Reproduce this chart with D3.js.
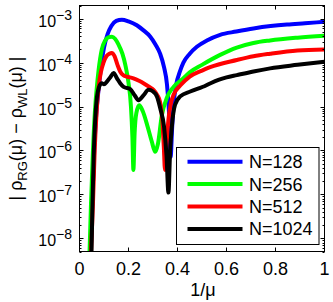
<!DOCTYPE html>
<html>
<head>
<meta charset="utf-8">
<script src="https://d3js.org/d3.v7.min.js"></script>
<style>
  body { margin: 0; background: #fff; }
  text { font-family: "Liberation Sans", Arial, sans-serif; fill: #000; }
</style>
</head>
<body>
<svg id="chart" width="333" height="302"></svg>
<script>
// values (x = 1/mu, y = |rho_RG - rho_WL|)
var n128X = [0.045, 0.052, 0.06, 0.068, 0.078, 0.09, 0.1, 0.115, 0.13, 0.15, 0.173, 0.2, 0.234, 0.26, 0.289, 0.31, 0.329, 0.345, 0.357, 0.365, 0.372, 0.378, 0.385, 0.395, 0.41, 0.424, 0.45, 0.479, 0.52, 0.574, 0.64, 0.71, 0.78, 0.847, 0.92, 1.0];
var n128Y = [3.2e-9, 6.3e-8, 1e-6, 6.3e-6, 2.5e-5, 1e-4, 2.2e-4, 4.5e-4, 6.8e-4, 8.9e-4, 9.5e-4, 8.7e-4, 7.1e-4, 5.5e-4, 3.9e-4, 2.6e-4, 1.6e-4, 7.9e-5, 3.2e-5, 7.9e-6, 7.2e-7, 3.2e-6, 1.26e-5, 3.2e-5, 6.3e-5, 1e-4, 1.6e-4, 2.3e-4, 3.2e-4, 4.3e-4, 5.1e-4, 6e-4, 6.8e-4, 7.4e-4, 7.9e-4, 8.5e-4];

var n256X = [0.04, 0.047, 0.055, 0.063, 0.07, 0.078, 0.091, 0.105, 0.12, 0.132, 0.145, 0.159, 0.175, 0.187, 0.2, 0.21, 0.216, 0.22, 0.225, 0.232, 0.244, 0.258, 0.278, 0.295, 0.309, 0.32, 0.336, 0.357, 0.384, 0.424, 0.45, 0.5, 0.574, 0.642, 0.71, 0.778, 0.89, 1.0];
var n256Y = [3.2e-9, 6.3e-8, 1e-6, 7.9e-6, 2.5e-5, 6.8e-5, 2e-4, 3.2e-4, 3.8e-4, 3.9e-4, 3.5e-4, 2.6e-4, 1.6e-4, 8.9e-5, 3.5e-5, 1e-5, 2e-6, 3.6e-7, 2.5e-6, 7.1e-6, 1.07e-5, 7.9e-6, 3.5e-6, 1.6e-6, 9.3e-7, 1.4e-6, 6.3e-6, 1.6e-5, 2.8e-5, 4.4e-5, 6e-5, 8.9e-5, 1.5e-4, 2.2e-4, 2.8e-4, 3.2e-4, 3.7e-4, 4.1e-4];

var n512X = [0.045, 0.055, 0.062, 0.07, 0.078, 0.088, 0.098, 0.11, 0.122, 0.132, 0.143, 0.155, 0.166, 0.18, 0.193, 0.22, 0.245, 0.261, 0.285, 0.302, 0.318, 0.329, 0.338, 0.344, 0.349, 0.355, 0.363, 0.372, 0.385, 0.411, 0.45, 0.5, 0.533, 0.642, 0.71, 0.778, 0.89, 1.0];
var n512Y = [2.5e-9, 6.3e-8, 1e-6, 7.9e-6, 2.8e-5, 6.3e-5, 1e-4, 1.4e-4, 1.6e-4, 1.66e-4, 1.4e-4, 8.9e-5, 6.3e-5, 5.1e-5, 4.8e-5, 4.4e-5, 3.8e-5, 3.4e-5, 2.8e-5, 2.4e-5, 1.8e-5, 1.26e-5, 5e-6, 1.26e-6, 3.6e-7, 1.26e-6, 5e-6, 1.1e-5, 1.9e-5, 3e-5, 4.8e-5, 6.6e-5, 7.9e-5, 1.15e-4, 1.4e-4, 1.6e-4, 1.9e-4, 2e-4];

var n1024X = [0.048, 0.053, 0.058, 0.064, 0.071, 0.08, 0.091, 0.1, 0.112, 0.125, 0.139, 0.153, 0.166, 0.18, 0.207, 0.225, 0.241, 0.261, 0.282, 0.3, 0.316, 0.33, 0.345, 0.355, 0.363, 0.37, 0.377, 0.39, 0.411, 0.452, 0.486, 0.51, 0.535, 0.57, 0.6, 0.642, 0.71, 0.778, 0.89, 1.0];
var n1024Y = [2.5e-9, 6.3e-8, 7.9e-7, 5e-6, 1.6e-5, 2.8e-5, 3.4e-5, 3.2e-5, 3.7e-5, 4.6e-5, 5.8e-5, 4.4e-5, 3.4e-5, 2.8e-5, 2.5e-5, 1.8e-5, 1.4e-5, 1.8e-5, 2.4e-5, 2.2e-5, 1.7e-5, 8.9e-6, 3.5e-6, 7.9e-7, 1.1e-7, 1e-6, 3.5e-6, 1.1e-5, 1.7e-5, 2.2e-5, 2.6e-5, 2.9e-5, 3.4e-5, 4.1e-5, 4.6e-5, 5.2e-5, 6.3e-5, 7.4e-5, 8.9e-5, 1.05e-4];

var seriesNames = ["N=128", "N=256", "N=512", "N=1024"];
var seriesColors = ["#0000ff", "#00ff00", "#ff0000", "#000000"];
var xTicks = [0, 0.2, 0.4, 0.6, 0.8, 1];
var xTickLabels = ["0", "0.2", "0.4", "0.6", "0.8", "1"];
var yTickExps = [-3, -4, -5, -6, -7, -8];

var series = [[n128X, n128Y], [n256X, n256Y], [n512X, n512Y], [n1024X, n1024Y]];

var svg = d3.select("#chart");
// note: "top" is taken by window.top, so plot edges get their own names
var plotL = 79.5, plotR = 324.5, plotT = 5.5, plotB = 251.5;

var x = d3.scaleLinear().domain([0, 1]).range([plotL, plotR]);
var y = d3.scaleLog().domain([5e-9, 2e-3]).range([plotB, plotT]);

svg.append("defs").append("clipPath").attr("id", "plotclip")
    .append("rect").attr("x", plotL).attr("y", plotT)
    .attr("width", plotR - plotL).attr("height", plotB - plotT);

// curves
var line = d3.line()
    .x(function(d) { return x(d[0]); })
    .y(function(d) { return y(d[1]); })
    .curve(d3.curveMonotoneX);

var curves = svg.append("g").attr("clip-path", "url(#plotclip)");
series.forEach(function(s, i) {
    var pts = s[0].map(function(v, j) { return [v, s[1][j]]; });
    curves.append("path")
        .attr("d", line(pts))
        .attr("fill", "none")
        .attr("stroke", seriesColors[i])
        .attr("stroke-width", 4)
        .attr("stroke-linejoin", "round");
});

// ticks, inside the box like matlab
var ticks = svg.append("g").attr("stroke", "#000").attr("stroke-width", 1);
xTicks.forEach(function(t) {
    ticks.append("line").attr("x1", x(t)).attr("x2", x(t)).attr("y1", plotB).attr("y2", plotB - 4);
    ticks.append("line").attr("x1", x(t)).attr("x2", x(t)).attr("y1", plotT).attr("y2", plotT + 4);
});
for (var d = -9; d <= -3; d++) {
    for (var k = 1; k <= 9; k++) {
        var v = k * Math.pow(10, d);
        if (v < 5e-9 || v > 2e-3) continue;
        var len = (k == 1) ? 4 : 2;
        var yy = Math.round(y(v)) + 0.5;
        ticks.append("line").attr("x1", plotL).attr("x2", plotL + len).attr("y1", yy).attr("y2", yy);
        ticks.append("line").attr("x1", plotR).attr("x2", plotR - len).attr("y1", yy).attr("y2", yy);
    }
}

// box
svg.append("rect")
    .attr("x", plotL).attr("y", plotT)
    .attr("width", plotR - plotL).attr("height", plotB - plotT)
    .attr("fill", "none").attr("stroke", "#000").attr("stroke-width", 1);

// x tick labels
svg.append("g").selectAll("text").data(xTicks).enter().append("text")
    .attr("x", function(d) { return x(d); })
    .attr("y", 274.5)
    .attr("text-anchor", "middle")
    .attr("font-size", 18)
    .text(function(d, i) { return xTickLabels[i]; });

// y tick labels 10^n
yTickExps.forEach(function(e) {
    var t = svg.append("text")
        .attr("x", 72)
        .attr("y", y(Math.pow(10, e)) + 8)
        .attr("text-anchor", "end")
        .attr("font-size", 16);
    t.append("tspan").text("10");
    t.append("tspan").attr("dy", -7).attr("font-size", 14).text("\u2212" + (-e));
});

// axis titles
svg.append("text")
    .attr("x", 203).attr("y", 296)
    .attr("text-anchor", "middle")
    .attr("font-size", 18)
    .text("1/\u03bc");

var yt = svg.append("text")
    .attr("transform", "translate(22," + ((plotT + plotB) / 2) + ") rotate(-90)")
    .attr("text-anchor", "middle")
    .attr("font-size", 18);
yt.append("tspan").text("| \u03c1");
yt.append("tspan").attr("dy", 5).attr("font-size", 13).text("RG");
yt.append("tspan").attr("dy", -5).text("(\u03bc) \u2212 \u03c1");
yt.append("tspan").attr("dy", 5).attr("font-size", 13).text("WL");
yt.append("tspan").attr("dy", -5).text("(\u03bc) |");

// legend
var lg = svg.append("g");
lg.append("rect")
    .attr("x", 176.5).attr("y", 147.5)
    .attr("width", 142.5).attr("height", 97)
    .attr("fill", "#fff").attr("stroke", "#000").attr("stroke-width", 1);
seriesNames.forEach(function(name, i) {
    var ly = 161.7 + i * 22.4;
    lg.append("line")
        .attr("x1", 187.5).attr("x2", 242.5)
        .attr("y1", ly).attr("y2", ly)
        .attr("stroke", seriesColors[i]).attr("stroke-width", 4);
    lg.append("text")
        .attr("x", 249).attr("y", ly + 6.5)
        .attr("font-size", 18)
        .text(name);
});
</script>
</body>
</html>
